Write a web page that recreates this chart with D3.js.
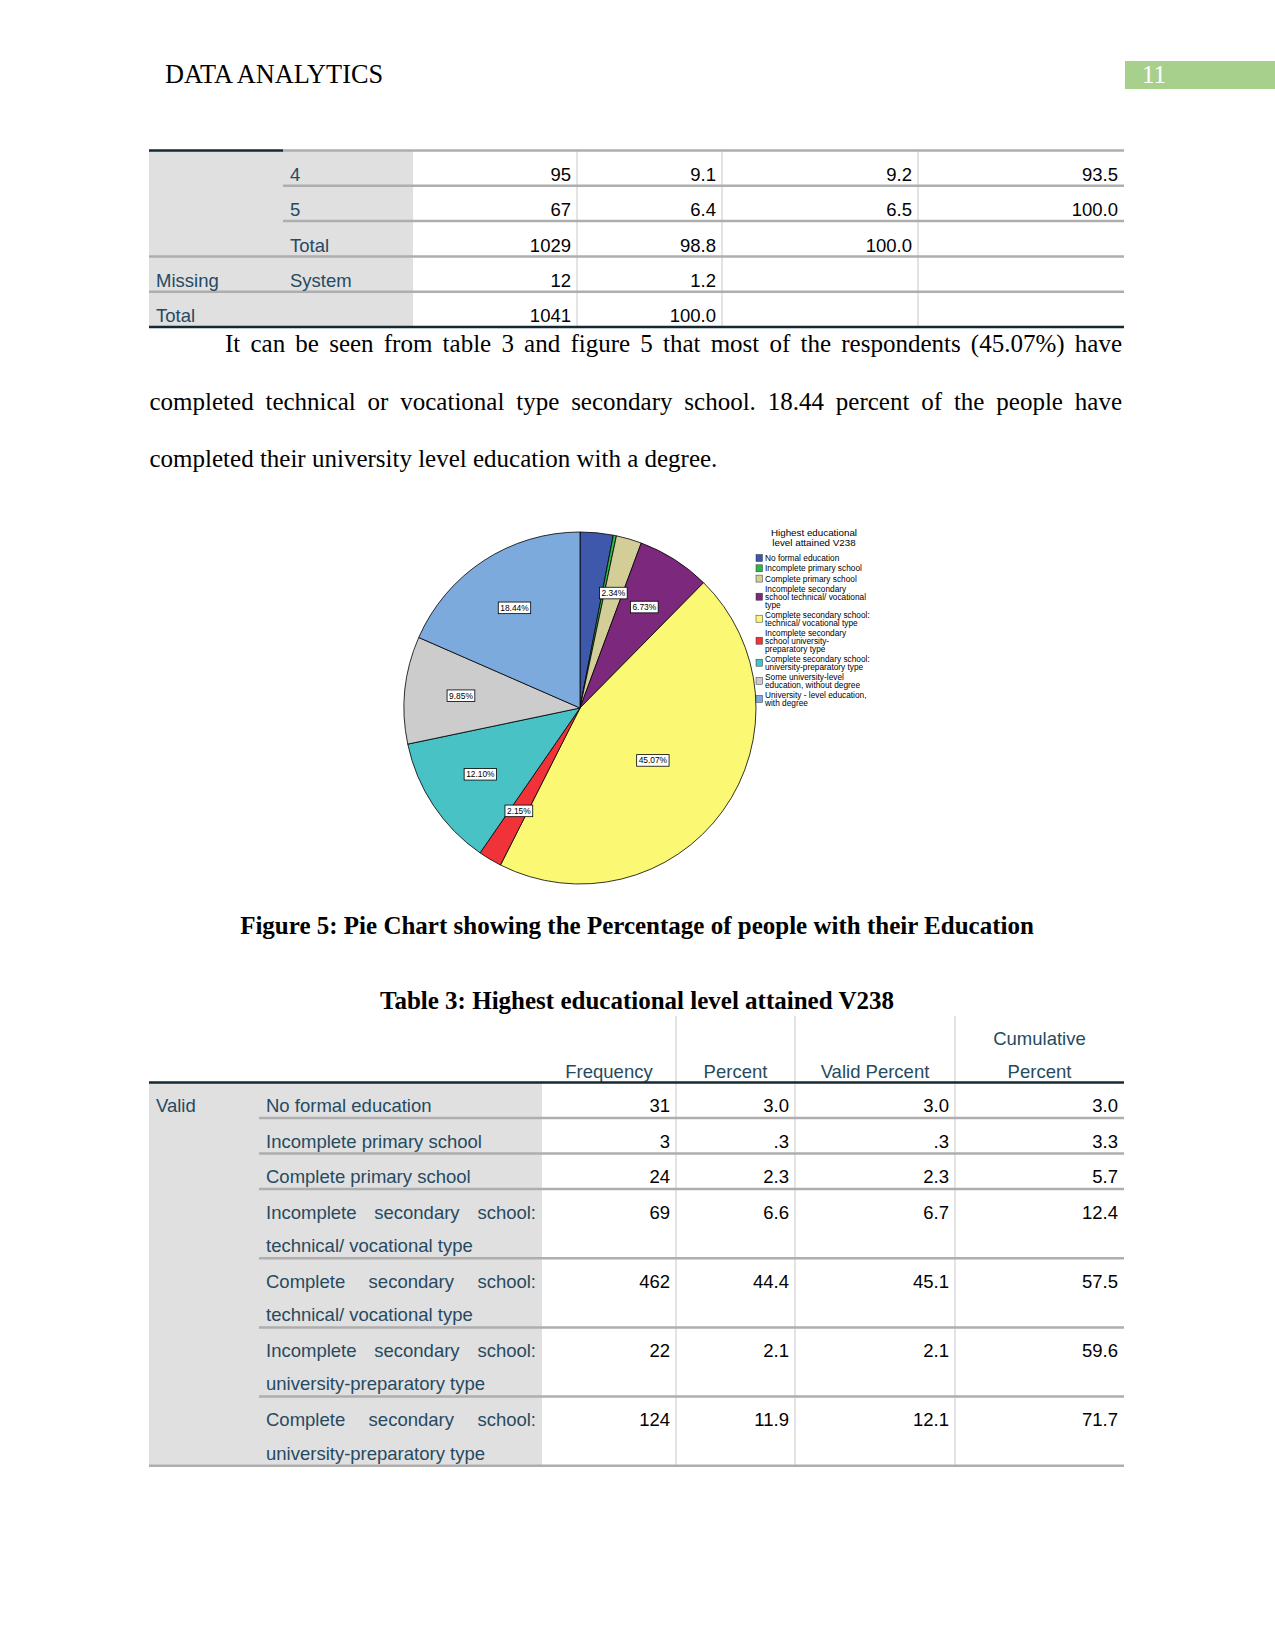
<!DOCTYPE html>
<html>
<head>
<meta charset="utf-8">
<script src="https://cdn.jsdelivr.net/npm/d3@7"></script>
<style>
  body { margin: 0; background: #fff; }
  svg { display: block; }
</style>
</head>
<body>
<svg width="1275" height="1651"></svg>
<script>
// ---- data ----
const pieCategories = [
  "No formal education", "Incomplete primary school", "Complete primary school",
  "Incomplete secondary school technical/ vocational type",
  "Complete secondary school: technical/ vocational type",
  "Incomplete secondary school university-preparatory type",
  "Complete secondary school: university-preparatory type",
  "Some university-level education, without degree",
  "University - level education, with degree"
];
const piePercents = [3.03, 0.29, 2.34, 6.73, 45.07, 2.15, 12.10, 9.85, 18.44];
const pieShowLabel = [false, false, true, true, true, true, true, true, true];
const pieColors = ["#3e58ac", "#2eb848", "#d3ce97", "#7c287d", "#fbf873",
                   "#ef3338", "#48c2c5", "#cccccc", "#7caadd"];
const legendTitle = ["Highest educational", "level attained V238"];
const legendLines = [
  ["No formal education"], ["Incomplete primary school"], ["Complete primary school"],
  ["Incomplete secondary", "school technical/ vocational", "type"],
  ["Complete secondary school:", "technical/ vocational type"],
  ["Incomplete secondary", "school university-", "preparatory type"],
  ["Complete secondary school:", "university-preparatory type"],
  ["Some university-level", "education, without degree"],
  ["University - level education,", "with degree"]
];

// table 2 (end of previous table)
const topGroups = ["", "", "", "Missing", "Total"];
const topLabels = ["4", "5", "Total", "System", ""];
const topFreq = ["95", "67", "1029", "12", "1041"];
const topPercent = ["9.1", "6.4", "98.8", "1.2", "100.0"];
const topValid = ["9.2", "6.5", "100.0", "", ""];
const topCum = ["93.5", "100.0", "", "", ""];

// table 3
const tableHeaders = [["Frequency"], ["Percent"], ["Valid Percent"], ["Cumulative", "Percent"]];
const rowLabels = [
  "No formal education", "Incomplete primary school", "Complete primary school",
  "Incomplete secondary school: technical/ vocational type",
  "Complete secondary school: technical/ vocational type",
  "Incomplete secondary school: university-preparatory type",
  "Complete secondary school: university-preparatory type"
];
const rowFreq = ["31", "3", "24", "69", "462", "22", "124"];
const rowPercent = ["3.0", ".3", "2.3", "6.6", "44.4", "2.1", "11.9"];
const rowValid = ["3.0", ".3", "2.3", "6.7", "45.1", "2.1", "12.1"];
const rowCum = ["3.0", "3.3", "5.7", "12.4", "57.5", "59.6", "71.7"];

const paragraphLines = [
  "It can be seen from table 3 and figure 5 that most of the respondents (45.07%) have",
  "completed technical or vocational type secondary school. 18.44 percent of the people have",
  "completed their university level education with a degree."
];
const captionText = "Figure 5: Pie Chart showing the Percentage of people with their Education";
const tableTitle = "Table 3: Highest educational level attained V238";

// ---- page ----
const svg = d3.select("svg");
const SERIF = "Liberation Serif, Times New Roman, serif";
const SANS = "Liberation Sans, Arial, sans-serif";
const LABEL_COLOR = "#264a60";
const NUM_COLOR = "#010205";
const SHADE = "#e0e0e0";
const ROW_LINE = "#aeaeae";
const COL_LINE = "#dadada";
const DARK_LINE = "#152935";

svg.append("rect").attr("width", 1275).attr("height", 1651).attr("fill", "#fff");

const measurer = svg.append("text").attr("visibility", "hidden");
function textWidth(str, family, size, weight) {
  measurer.attr("font-family", family).attr("font-size", size)
    .attr("font-weight", weight || "normal").text(str);
  return measurer.node().getComputedTextLength();
}

function drawLine(g, str, x0, x1, y, opts) {
  const words = str.split(" ");
  const text = g.append("text")
    .attr("y", y)
    .attr("font-family", opts.family)
    .attr("font-size", opts.size)
    .attr("fill", opts.fill);
  if (!opts.justify || words.length < 2) {
    text.attr("x", x0).text(str);
    return;
  }
  const widths = words.map(w => textWidth(w, opts.family, opts.size));
  const gap = (x1 - x0 - d3.sum(widths)) / (words.length - 1);
  let x = x0;
  words.forEach((w, i) => {
    text.append("tspan").attr("x", x).text(w);
    x += widths[i] + gap;
  });
}

function wrapWords(str, maxWidth, family, size) {
  const words = str.split(" ");
  const lines = [];
  let line = [];
  words.forEach(w => {
    const test = line.concat(w).join(" ");
    if (line.length && textWidth(test, family, size) > maxWidth) {
      lines.push(line.join(" "));
      line = [w];
    } else {
      line.push(w);
    }
  });
  if (line.length) lines.push(line.join(" "));
  return lines;
}

// header
svg.append("text")
  .attr("x", 165).attr("y", 83)
  .attr("font-family", SERIF).attr("font-size", 26.3)
  .text("DATA ANALYTICS");
svg.append("rect")
  .attr("x", 1125).attr("y", 61).attr("width", 150).attr("height", 28)
  .attr("fill", "#a8d08d");
svg.append("text")
  .attr("x", 1142).attr("y", 83)
  .attr("font-family", SERIF).attr("font-size", 25).attr("fill", "#fff")
  .text("11");

// ---- top table ----
function drawTopTable() {
  const cols = [149, 283, 413, 577, 722, 918, 1124];
  const y = d3.scaleLinear().domain([0, topLabels.length]).range([150.5, 327]);
  const g = svg.append("g").attr("class", "top-table");
  g.append("rect")
    .attr("x", cols[0]).attr("y", y(0))
    .attr("width", cols[2] - cols[0]).attr("height", y(topLabels.length) - y(0))
    .attr("fill", SHADE);
  [3, 4, 5].forEach(c => {
    g.append("line")
      .attr("x1", cols[c]).attr("x2", cols[c])
      .attr("y1", y(0)).attr("y2", y(topLabels.length))
      .attr("stroke", COL_LINE).attr("stroke-width", 1.5);
  });
  g.append("line").attr("x1", cols[1]).attr("x2", cols[6]).attr("y1", y(0)).attr("y2", y(0))
    .attr("stroke", ROW_LINE).attr("stroke-width", 2.5);
  g.append("line").attr("x1", cols[0]).attr("x2", cols[1]).attr("y1", y(0)).attr("y2", y(0))
    .attr("stroke", DARK_LINE).attr("stroke-width", 2.5);
  topLabels.forEach((lab, i) => {
    const yb = y(i + 1);
    if (i < topLabels.length - 1) {
      g.append("line")
        .attr("x1", i < 2 ? cols[1] : cols[0]).attr("x2", cols[6])
        .attr("y1", yb).attr("y2", yb)
        .attr("stroke", ROW_LINE).attr("stroke-width", 2.5);
    }
    const base = y(i) + 30.5;
    const row = g.append("g").attr("font-family", SANS).attr("font-size", 18.5);
    row.append("text").attr("x", cols[0] + 7).attr("y", base).attr("fill", LABEL_COLOR).text(topGroups[i]);
    row.append("text").attr("x", cols[1] + 7).attr("y", base).attr("fill", LABEL_COLOR).text(lab);
    [topFreq[i], topPercent[i], topValid[i], topCum[i]].forEach((v, k) => {
      row.append("text").attr("x", cols[k + 3] - 6).attr("y", base)
        .attr("text-anchor", "end").attr("fill", NUM_COLOR).text(v);
    });
  });
  g.append("line").attr("x1", cols[0]).attr("x2", cols[6])
    .attr("y1", y(topLabels.length)).attr("y2", y(topLabels.length))
    .attr("stroke", DARK_LINE).attr("stroke-width", 2.5);
}
drawTopTable();

// paragraph
const para = svg.append("g");
paragraphLines.forEach((line, i) => {
  drawLine(para, line, i === 0 ? 225 : 149.5, 1122, 352 + i * 57.5, {
    family: SERIF, size: 25, fill: "#000", justify: i < paragraphLines.length - 1
  });
});

// ---- pie chart ----
function drawPie() {
  const cx = 580, cy = 708, r = 176;
  const g = svg.append("g").attr("transform", `translate(${cx},${cy})`);
  const pie = d3.pie().sort(null).value(d => d);
  const arcs = pie(piePercents);
  const arc = d3.arc().innerRadius(0).outerRadius(r);
  g.selectAll("path.slice")
    .data(arcs)
    .enter()
    .append("path")
    .attr("class", "slice")
    .attr("d", arc)
    .attr("fill", (d, i) => pieColors[i])
    .attr("stroke", "#000")
    .attr("stroke-width", 0.8);

  const maxVal = d3.max(piePercents);
  const labels = g.selectAll("g.lbl")
    .data(arcs.filter((d, i) => pieShowLabel[i]))
    .enter()
    .append("g")
    .attr("class", "lbl")
    .attr("transform", d => {
      const lr = d.value === maxVal ? r * 0.51 : r * 0.68;
      const [x, y] = d3.arc().innerRadius(lr).outerRadius(lr).centroid(d);
      return `translate(${x},${y})`;
    });
  labels.each(function (d) {
    const s = d.value.toFixed(2) + "%";
    const w = textWidth(s, SANS, 8.4) + 4;
    const sel = d3.select(this);
    sel.append("rect")
      .attr("x", -w / 2).attr("y", -5.8).attr("width", w).attr("height", 11.6)
      .attr("fill", "#fff").attr("stroke", "#000").attr("stroke-width", 0.8);
    sel.append("text")
      .attr("text-anchor", "middle").attr("y", 3)
      .attr("font-family", SANS).attr("font-size", 8.4)
      .text(s);
  });

  // legend
  const lg = svg.append("g").attr("font-family", SANS);
  legendTitle.forEach((t, i) => {
    lg.append("text")
      .attr("x", 814).attr("y", 535.5 + i * 10.5)
      .attr("text-anchor", "middle").attr("font-size", 9.8)
      .text(t);
  });
  let ly = 558;
  legendLines.forEach((lines, i) => {
    const mid = ly + (lines.length - 1) * 7.8 / 2;
    lg.append("rect")
      .attr("x", 756).attr("y", mid - 3.5).attr("width", 6.5).attr("height", 7)
      .attr("fill", pieColors[i]).attr("stroke", "#333").attr("stroke-width", 0.5);
    lines.forEach((t, k) => {
      lg.append("text")
        .attr("x", 765).attr("y", ly + k * 7.8 + 3)
        .attr("font-size", 8.3)
        .text(t);
    });
    ly += (lines.length - 1) * 7.8 + 10.3;
  });
}
drawPie();

// caption & title
svg.append("text")
  .attr("x", 637).attr("y", 934).attr("text-anchor", "middle")
  .attr("font-family", SERIF).attr("font-size", 25).attr("font-weight", "bold")
  .text(captionText);
svg.append("text")
  .attr("x", 637).attr("y", 1009).attr("text-anchor", "middle")
  .attr("font-family", SERIF).attr("font-size", 25).attr("font-weight", "bold")
  .text(tableTitle);

// ---- table 3 ----
function drawTable3() {
  const cols = [149, 259, 542, 676, 795, 955, 1124];
  const g = svg.append("g").attr("class", "table3");
  const headTop = 1016, headBottom = 1082.5;
  const lineGap = 33.5;
  const labelWidth = cols[2] - cols[1] - 12;

  const wrapped = rowLabels.map(l => wrapWords(l, labelWidth, SANS, 18.5));
  const heights = wrapped.map(w => w.length === 1 ? 35.5 : 69.2);
  const tops = [];
  heights.reduce((acc, h) => { tops.push(acc); return acc + h; }, headBottom);
  const bottom = tops[tops.length - 1] + heights[heights.length - 1];

  g.append("rect")
    .attr("x", cols[0]).attr("y", headBottom)
    .attr("width", cols[2] - cols[0]).attr("height", bottom - headBottom)
    .attr("fill", SHADE);
  [3, 4, 5].forEach(c => {
    g.append("line")
      .attr("x1", cols[c]).attr("x2", cols[c])
      .attr("y1", headTop).attr("y2", bottom)
      .attr("stroke", COL_LINE).attr("stroke-width", 1.5);
  });

  tableHeaders.forEach((lines, k) => {
    const cxh = (cols[k + 2] + cols[k + 3]) / 2;
    lines.forEach((t, j) => {
      g.append("text")
        .attr("x", cxh).attr("y", 1078 - (lines.length - 1 - j) * lineGap)
        .attr("text-anchor", "middle")
        .attr("font-family", SANS).attr("font-size", 18.5).attr("fill", LABEL_COLOR)
        .text(t);
    });
  });

  g.append("text")
    .attr("x", cols[0] + 7).attr("y", headBottom + 29.5)
    .attr("font-family", SANS).attr("font-size", 18.5).attr("fill", LABEL_COLOR)
    .text("Valid");

  wrapped.forEach((lines, i) => {
    const top = tops[i];
    const yb = top + heights[i];
    g.append("line")
      .attr("x1", i === rowLabels.length - 1 ? cols[0] : cols[1]).attr("x2", cols[6])
      .attr("y1", yb).attr("y2", yb)
      .attr("stroke", ROW_LINE).attr("stroke-width", 2.5);
    lines.forEach((t, j) => {
      drawLine(g, t, cols[1] + 7, cols[2] - 6, top + 29.5 + j * lineGap, {
        family: SANS, size: 18.5, fill: LABEL_COLOR, justify: j < lines.length - 1
      });
    });
    [rowFreq[i], rowPercent[i], rowValid[i], rowCum[i]].forEach((v, k) => {
      g.append("text")
        .attr("x", cols[k + 3] - 6).attr("y", top + 29.5)
        .attr("text-anchor", "end")
        .attr("font-family", SANS).attr("font-size", 18.5).attr("fill", NUM_COLOR)
        .text(v);
    });
  });

  g.append("line")
    .attr("x1", cols[0]).attr("x2", cols[6])
    .attr("y1", headBottom).attr("y2", headBottom)
    .attr("stroke", DARK_LINE).attr("stroke-width", 2.5);
}
drawTable3();

measurer.remove();
</script>
</body>
</html>
